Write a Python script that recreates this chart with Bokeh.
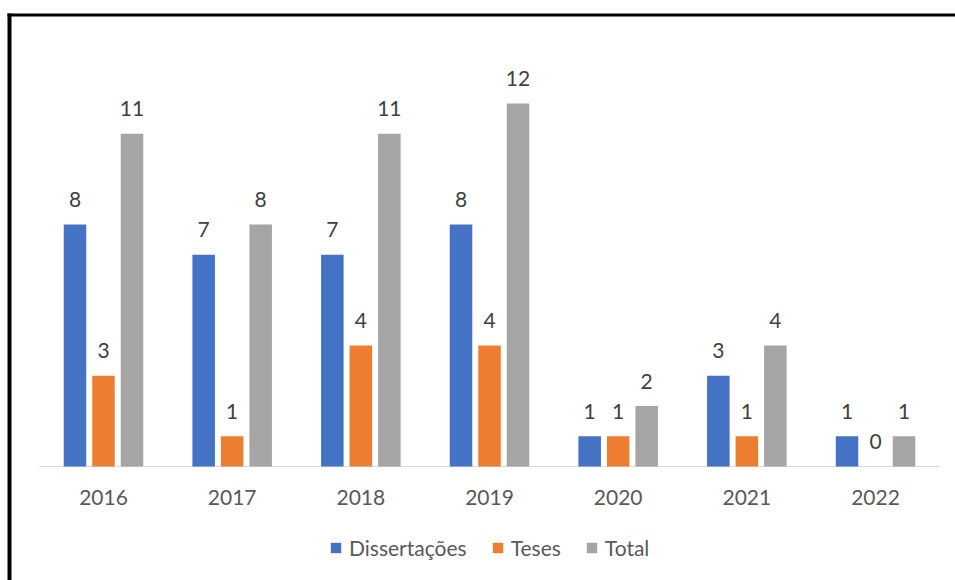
import numpy as np
from bokeh.plotting import figure
from bokeh.models import ColumnDataSource, Range1d, Legend, LegendItem
from bokeh.transform import dodge
from bokeh.core.properties import value
from bokeh.embed import file_html
from bokeh.resources import INLINE

years = ["2016", "2017", "2018", "2019", "2020", "2021", "2022"]
dissertacoes = [8, 7, 7, 8, 1, 3, 1]
teses = [3, 1, 4, 4, 1, 1, 0]
total = [11, 8, 11, 12, 2, 4, 1]
series_names = ["Dissertações", "Teses", "Total"]
colors = ["#4472C4", "#ED7D31", "#A5A5A5"]

xi = np.arange(len(years))
src = ColumnDataSource(dict(
    xi=xi, years=years, zero=[0] * len(years),
    d=dissertacoes, t=teses, tot=total,
    d_lbl=[str(v) for v in dissertacoes],
    t_lbl=[str(v) for v in teses],
    tot_lbl=[str(v) for v in total],
))

FONT = "Lato"
FS = "21px"
W, H = 955, 580
cat_px = 128.67      # pixels per category
x0_px = 103.0        # pixel centre of first category
base_px = 466.0      # pixel row of the baseline
unit_px = 30.25      # pixels per count

xr = Range1d(-x0_px / cat_px, (W - x0_px) / cat_px)
yr = Range1d(-(H - base_px) / unit_px, base_px / unit_px)

p = figure(width=W, height=H, output_backend="svg", toolbar_location=None,
           x_range=xr, y_range=yr,
           x_axis_location=None, y_axis_location=None,
           min_border=0, min_border_left=0, min_border_right=0,
           min_border_top=0, min_border_bottom=0)
p.outline_line_color = None
p.grid.visible = False
p.background_fill_color = "white"
p.border_fill_color = "white"

# chart-area frame: left and top edges (pixel offsets converted to data units)
px_x = lambda px: xr.start + px / cat_px
px_y = lambda px: yr.end - px / unit_px
p.quad(left=[px_x(7), px_x(7)], right=[px_x(11), xr.end + 1],
       top=[px_y(13), px_y(13)], bottom=[yr.start - 1, px_y(16)],
       fill_color="black", line_color=None)

# category baseline
p.segment(x0=[-0.5], x1=[len(years) - 0.5], y0=[0], y1=[0], line_color="#D9D9D9", line_width=1)

offsets = [-0.2215, 0.0, 0.2215]
cols = ["d", "t", "tot"]
lbls = ["d_lbl", "t_lbl", "tot_lbl"]
renderers = []
for off, c, l, col in zip(offsets, cols, lbls, colors):
    r = p.vbar(x=dodge("xi", off), top=c, width=0.175, source=src,
               fill_color=col, line_color=None)
    renderers.append(r)
    p.text(x=dodge("xi", off), y=c, text=l, source=src,
           text_align="center", text_baseline="middle", y_offset=-25,
           text_font=value(FONT), text_font_size=FS, text_color="#404040")

# category labels
p.text(x="xi", y="zero", text="years", source=src, text_align="center",
       text_baseline="middle", y_offset=31, text_font=value(FONT),
       text_font_size=FS, text_color="#595959")

legend = Legend(items=[LegendItem(label=n, renderers=[r]) for n, r in zip(series_names, renderers)],
                orientation="horizontal", location=(329, 20),
                glyph_width=13, glyph_height=13, label_standoff=7, spacing=24,
                label_height=13, padding=0, margin=0, border_line_color=None,
                background_fill_alpha=0,
                label_text_font=FONT, label_text_font_size=FS, label_text_color="#595959")
p.add_layout(legend)

open("out.html", "w").write(file_html(p, INLINE))
